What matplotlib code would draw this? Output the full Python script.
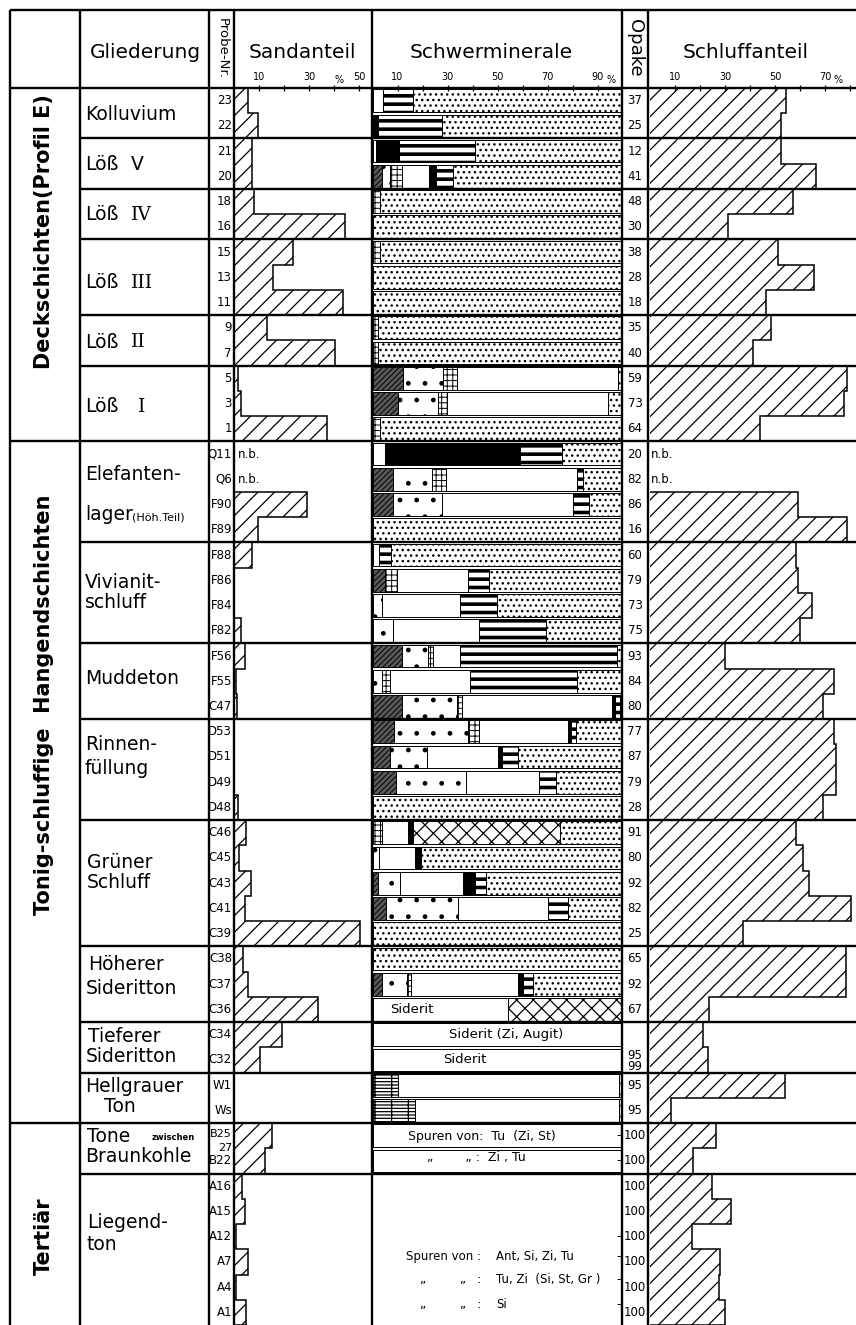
import numpy as np
import matplotlib
matplotlib.use("Agg")
import matplotlib.pyplot as plt

nan = np.nan

# ---------------------------------------------------------------- data
groups = ["Deckschichten(Profil E)", "Tonig-schluffige  Hangendschichten", "Tertiär"]
group_rows = [14, 27, 8]

units = ["Kolluvium", "Löß V", "Löß IV", "Löß III", "Löß II", "Löß I",
         "Elefantenlager", "Vivianitschluff", "Muddeton", "Rinnenfüllung",
         "Grüner Schluff", "Höherer Sideritton", "Tieferer Sideritton",
         "Hellgrauer Ton", "Tone zwischen Braunkohle", "Liegendton"]
unit_rows = [2, 2, 2, 3, 2, 3, 4, 4, 3, 4, 5, 3, 2, 2, 2, 6]

samples = ["23", "22", "21", "20", "18", "16", "15", "13", "11", "9", "7", "5", "3", "1",
           "Q11", "Q6", "F90", "F89", "F88", "F86", "F84", "F82", "F56", "F55", "C47",
           "D53", "D51", "D49", "D48", "C46", "C45", "C43", "C41", "C39", "C38", "C37", "C36",
           "C34", "C32", "W1", "Ws", "B25", "B22", "A16", "A15", "A12", "A7", "A4", "A1"]

# Sandanteil (%)  - n.b. = nan
sand = [5.6, 9.6, 7.2, 7.2, 8.0, 44.4, 23.6, 15.6, 43.6, 13.2, 40.4, 1.6, 2.8, 37.2,
        nan, nan, 29.2, 9.6, 7.2, 0, 0, 2.8, 4.4, 0.6, 1.2,
        0, 0, 0, 1.6, 4.8, 2.0, 6.8, 4.4, 50.4, 3.6, 5.6, 33.6,
        19.2, 10.4, 0, 0, 15.2, 12.4, 3.2, 4.4, 0.6, 5.6, 0.8, 4.8]

# Schluffanteil (%)
schluff = [54.4, 52.3, 52.3, 66.4, 57.3, 31.2, 51.2, 65.6, 46.4, 48.4, 41.2, 78.8, 77.6, 44.0,
           nan, nan, 59.2, 78.8, 58.4, 59.0, 64.8, 60.0, 30.0, 73.6, 69.2,
           73.6, 74.4, 74.4, 69.2, 58.4, 61.2, 63.5, 80.4, 37.2, 78.4, 78.4, 23.6,
           21.2, 23.2, 54.0, 8.4, 26.4, 17.2, 24.8, 32.4, 16.8, 28.0, 27.6, 30.0]

# Opake
opake = ["37", "25", "12", "41", "48", "30", "38", "28", "18", "35", "40", "59", "73", "64",
         "20", "82", "86", "16", "60", "79", "73", "75", "93", "84", "80",
         "77", "87", "79", "28", "91", "80", "92", "82", "25", "65", "92", "67",
         "", "95\n99", "95", "95", "100", "100", "100", "100", "100", "100", "100", "100"]

# Schwerminerale, stacked components (%), one list per pattern in drawing order
hm_dash = [0]*39 + [10.3, 17.0] + [0]*8
hm_diag = [0, 0, 0, 3.6, 0, 0, 0, 0, 0, 0, 0, 12.0, 10.0, 0,
           0, 8.0, 8.0, 0, 0, 5.0, 0, 0, 11.6, 0, 11.6,
           8.4, 7.0, 9.3, 0, 0, 0, 2.0, 5.3, 0, 0, 3.6, 0,
           0, 0, 0, 0, 0, 0, 0, 0, 0, 0, 0, 0]
hm_dots = [0, 0, 0, 3.4, 0, 0, 0, 0, 0, 0, 0, 16.0, 16.0, 0,
           0, 15.6, 19.6, 0, 0, 0, 3.6, 8.0, 10.7, 3.6, 22.0,
           29.6, 14.6, 28.0, 0, 0, 2.7, 9.0, 28.7, 0, 0, 10.0, 0,
           0, 0, 0, 0, 0, 0, 0, 0, 0, 0, 0, 0]
hm_brick = [0, 0, 0, 4.6, 3.0, 0, 3.0, 0, 0, 2.0, 2.0, 5.6, 3.6, 3.0,
            0, 5.7, 0, 0, 0, 4.6, 0, 0, 2.0, 3.4, 2.0,
            4.6, 0, 0, 0, 3.6, 0, 0, 0, 0, 0, 1.6, 0,
            0, 0, 0, 0, 0, 0, 0, 0, 0, 0, 0, 0]
hm_white = [4.0, 0, 1.5, 10.8, 0, 0, 0, 0, 0, 0, 0, 64.4, 64.4, 0,
            5.0, 52.3, 52.4, 0, 2.7, 28.4, 31.4, 34.4, 10.7, 32.0, 60.0,
            35.4, 28.4, 29.4, 0, 10.4, 14.3, 25.0, 36.0, 0, 0, 43.1, 54.3,
            100, 100, 88.3, 81.6, 100, 100, 0, 0, 0, 0, 0, 0]
hm_black = [0, 2.0, 9.0, 2.9, 0, 0, 0, 0, 0, 0, 0, 0, 0, 0,
            54.0, 0, 0, 0, 0, 0, 0, 0, 0, 0, 1.4,
            1.3, 1.7, 0, 0, 2.0, 2.3, 5.0, 0, 0, 0, 2.0, 0,
            0, 0, 0, 0, 0, 0, 0, 0, 0, 0, 0, 0]
hm_stripes = [12.0, 25.6, 30.5, 6.7, 0, 0, 0, 0, 0, 0, 0, 0, 0, 0,
              16.6, 2.4, 6.5, 0, 4.5, 8.7, 14.6, 27.1, 62.6, 42.6, 2.0,
              2.2, 6.3, 6.6, 0, 0, 0, 4.3, 8.3, 0, 0, 3.7, 0,
              0, 0, 0, 0, 0, 0, 0, 0, 0, 0, 0, 0]
hm_cross = [0]*29 + [59.0] + [0]*6 + [45.7] + [0]*12
hm_stipple = [84.0, 72.4, 59.0, 68.0, 97.0, 100, 97.0, 100, 100, 98.0, 98.0, 2.0, 6.0, 97.0,
              24.4, 16.0, 13.5, 100, 92.8, 53.3, 50.4, 30.5, 2.4, 18.4, 1.0,
              18.5, 42.0, 26.7, 100, 25.0, 80.7, 54.7, 21.7, 100, 100, 36.0, 0,
              0, 0, 1.4, 1.4, 0, 0, 0, 0, 0, 0, 0, 0]

# ---------------------------------------------------------------- layout
W, H = 856, 1325
X_L, X_GL, X_PN, X_SA, X_SW, X_OP, X_SL, X_R = 10, 80, 209, 234, 372.5, 622.5, 648, 856
Y_T, Y_HD, Y_B = 10, 88, 1325
N = len(samples)
RH = (Y_B - Y_HD) / N
LW = 1.7
FONT = "DejaVu Sans"
plt.rcParams["font.family"] = FONT


def ypx(r):
    return Y_HD + r * RH


fig = plt.figure(figsize=(W / 100, H / 100), dpi=100)
fig.patch.set_facecolor("white")


def data_axes(x0, x1, xlim, majors, labels, minors):
    ax = fig.add_axes([x0 / W, 0, (x1 - x0) / W, (Y_B - Y_HD) / H])
    ax.set_xlim(*xlim)
    ax.set_ylim(N, 0)
    ax.patch.set_visible(False)
    for s in ax.spines.values():
        s.set_visible(False)
    ax.tick_params(axis="y", left=False, labelleft=False)
    ax.xaxis.set_ticks_position("top")
    ax.set_xticks(majors)
    ax.set_xticklabels(labels)
    ax.set_xticks(minors, minor=True)
    ax.tick_params(axis="x", which="both", top=True, bottom=False, labeltop=True,
                   labelbottom=False, direction="inout", length=5, width=0.9,
                   pad=1.5, labelsize=7)
    return ax


ax_sa = data_axes(X_SA, X_SW, (0, (X_SW - X_SA) / 2.5), [10, 30, 50], ["10", "30", "50"], [20, 40])
ax_sw = data_axes(X_SW, X_OP, (0, 100), [10, 30, 50, 70, 90], ["10", "30", "50", "70", "90"],
                  [20, 40, 60, 80])
ax_sl = data_axes(X_SL, X_R, (-0.8, (X_R - X_SL) / 2.5 - 0.8), [10, 30, 50, 70],
                  ["10", "30", "50", "70"], [20, 40, 60, 80])


def set_hlw(artists, lw):
    for a in artists:
        if hasattr(a, "set_hatch_linewidth"):
            a.set_hatch_linewidth(lw)


# ---- grain size step columns (Sand / Schluff)
unit_edges = np.concatenate([[0], np.cumsum(unit_rows)])
for ax, vals_all in ((ax_sa, sand), (ax_sl, schluff)):
    vals_all = np.asarray(vals_all, float)
    for a, b in zip(unit_edges[:-1], unit_edges[1:]):
        v = vals_all[a:b]
        ok = ~np.isnan(v)
        if not ok.any():
            continue
        idx = np.arange(a, b)[ok]
        with plt.rc_context({"hatch.linewidth": 0.9}):
            sp = ax.stairs(v[ok], np.arange(idx[0], idx[-1] + 2), orientation="horizontal",
                           baseline=0, fill=True, facecolor="white", edgecolor="black",
                           hatch="//", linewidth=1.1)
        set_hlw([sp], 0.9)

# ---- heavy minerals stacked bars
styles = [
    (hm_dash, dict(facecolor="white", hatch="-----|"), 0.9),
    (hm_diag, dict(facecolor="0.35", hatch="//////"), 0.7),
    (hm_dots, dict(facecolor="white", hatch="."), 1.0),
    (hm_brick, dict(facecolor="white", hatch="+++"), 0.7),
    (hm_white, dict(facecolor="white", hatch=None), 1.0),
    (hm_black, dict(facecolor="black", hatch=None), 1.0),
    (hm_stripes, dict(facecolor="white", hatch="--"), 2.6),
    (hm_cross, dict(facecolor="white", hatch="xx"), 0.9),
    (hm_stipple, dict(facecolor="white", hatch="..."), 1.0),
]
yc = np.arange(N) + 0.5
left = np.zeros(N)
for vals, st, hlw in styles:
    v = np.asarray(vals, float)
    m = v > 0
    with plt.rc_context({"hatch.linewidth": hlw}):
        bars = ax_sw.barh(yc[m], v[m], left=left[m], height=0.9, edgecolor="black",
                          linewidth=0.7, **st)
    set_hlw(bars, hlw)
    left += v

# texts inside the heavy-mineral column
ax_sw.text(15.6, 36.5, "Siderit", ha="center", va="center", fontsize=9.5, zorder=5)
ax_sw.text(53.6, 37.5, "Siderit (Zi, Augit)", ha="center", va="center", fontsize=9.5, zorder=5)
ax_sw.text(36.8, 38.5, "Siderit", ha="center", va="center", fontsize=9.5, zorder=5)
ax_sw.text(43.6, 41.55, "Spuren von:  Tu  (Zi, St)", ha="center", va="center", fontsize=9, zorder=5)
ax_sw.text(41.6, 42.35, "„        „ :  Zi , Tu", ha="center", va="center", fontsize=9, zorder=5)
spuren = [(46.3, "Spuren von :", "Ant, Si, Zi, Tu"),
          (47.2, "„         „   :", "Tu, Zi  (Si, St, Gr )"),
          (48.2, "„         „   :", "Si")]
for r, pre, txt in spuren:
    ax_sw.text(43.6, r, pre, ha="right", va="center", fontsize=8.5, zorder=5)
    ax_sw.text(49.6, r, txt, ha="left", va="center", fontsize=8.5, zorder=5)
for r in [41.5, 42.5, 45.5, 46.3, 47.2, 48.2]:
    ax_sw.text(98.5, r, "-", ha="center", va="center", fontsize=9, zorder=5)

# n.b. labels
for r in (14.5, 15.5):
    ax_sa.text(1.5, r, "n.b.", ha="left", va="center", fontsize=8.5)
    ax_sl.text(0.4, r, "n.b.", ha="left", va="center", fontsize=8.5)

# ---------------------------------------------------------------- overlay: grid + texts
ov = fig.add_axes([0, 0, 1, 1], zorder=30)
ov.set_xlim(0, W)
ov.set_ylim(H, 0)
ov.axis("off")

ov.plot([X_L, X_R], [Y_T, Y_T], color="k", lw=LW, solid_capstyle="butt")
ov.plot([X_L, X_R], [Y_HD, Y_HD], color="k", lw=LW, solid_capstyle="butt")
g_bounds = np.cumsum(group_rows)[:-1]
for b in np.cumsum(unit_rows)[:-1]:
    x0 = X_L if b in g_bounds else X_GL
    ov.plot([x0, X_R], [ypx(b), ypx(b)], color="k", lw=LW, solid_capstyle="butt")
for x in (X_L, X_GL, X_PN, X_SA, X_SW, X_OP, X_SL):
    ov.plot([x, x], [Y_T, Y_B], color="k", lw=LW, solid_capstyle="butt")

# header
HS = 14.5
ov.text(145, 53, "Gliederung", ha="center", va="center", fontsize=HS)
ov.text(222, 48, "Probe-Nr.", ha="center", va="center", rotation=-90, fontsize=9.5)
ov.text(302, 53, "Sandanteil", ha="center", va="center", fontsize=HS)
ov.text(491, 53, "Schwerminerale", ha="center", va="center", fontsize=HS)
ov.text(635, 48, "Opake", ha="center", va="center", rotation=-90, fontsize=13)
ov.text(746, 53, "Schluffanteil", ha="center", va="center", fontsize=HS)
ov.text(339, 80, "%", ha="center", va="center", fontsize=7)
ov.text(611, 80, "%", ha="center", va="center", fontsize=7)
ov.text(838, 80, "%", ha="center", va="center", fontsize=7)

# group labels (rotated)
group_label_rows = [5.7, 24.45, 45.5]
for g, r in zip(groups, group_label_rows):
    ov.text(44, ypx(r), g, ha="center", va="center", rotation=90, fontsize=15,
            fontweight="bold")

# Gliederung labels
GS = 13.5
gl_lines = [("Kolluvium", 85, 115), ("Löß", 85, 165), ("Löß", 85, 215), ("Löß", 85, 283),
            ("Löß", 85, 342), ("Löß", 85, 407), ("Elefanten-", 85, 475), ("lager", 85, 515),
            ("Vivianit-", 85, 583), ("schluff", 85, 602), ("Muddeton", 85, 678),
            ("Rinnen-", 85, 745), ("füllung", 85, 768), ("Grüner", 87, 862),
            ("Schluff", 87, 883), ("Höherer", 88, 965), ("Sideritton", 86, 988),
            ("Tieferer", 88, 1036), ("Sideritton", 86, 1057), ("Hellgrauer", 85, 1087),
            ("Ton", 104, 1106), ("Tone", 87, 1136), ("Braunkohle", 85, 1157),
            ("Liegend-", 87, 1222), ("ton", 87, 1245)]
for t, x, y in gl_lines:
    ov.text(x, y, t, ha="left", va="center", fontsize=GS)
ov.text(131, 165, "V", ha="left", va="center", fontsize=GS)
for t, x, y in [("IV", 131, 215), ("III", 131, 283), ("II", 131, 342), ("I", 138, 407)]:
    ov.text(x, y, t, ha="left", va="center", fontsize=GS, family="DejaVu Serif")
ov.text(132, 517, "(Höh.Teil)", ha="left", va="center", fontsize=8)
ov.text(152, 1137, "zwischen", ha="left", va="center", fontsize=6, fontweight="bold")

# sample numbers
for i, s in enumerate(samples):
    if s == "B25":
        ov.text(232, ypx(i + 0.45), "B25", ha="right", va="center", fontsize=8)
        ov.text(232, ypx(i + 1.0), "27", ha="right", va="center", fontsize=8)
        continue
    ov.text(232, ypx(i + 0.5), s, ha="right", va="center", fontsize=8.5)

# opake
for i, s in enumerate(opake):
    if not s:
        continue
    if "\n" in s:
        ov.text(635, ypx(i + 0.55), s, ha="center", va="center", fontsize=8.5, linespacing=0.85)
    else:
        ov.text(635, ypx(i + 0.5), s, ha="center", va="center", fontsize=8.5)

fig.savefig("out.png", dpi=100, facecolor="white")
